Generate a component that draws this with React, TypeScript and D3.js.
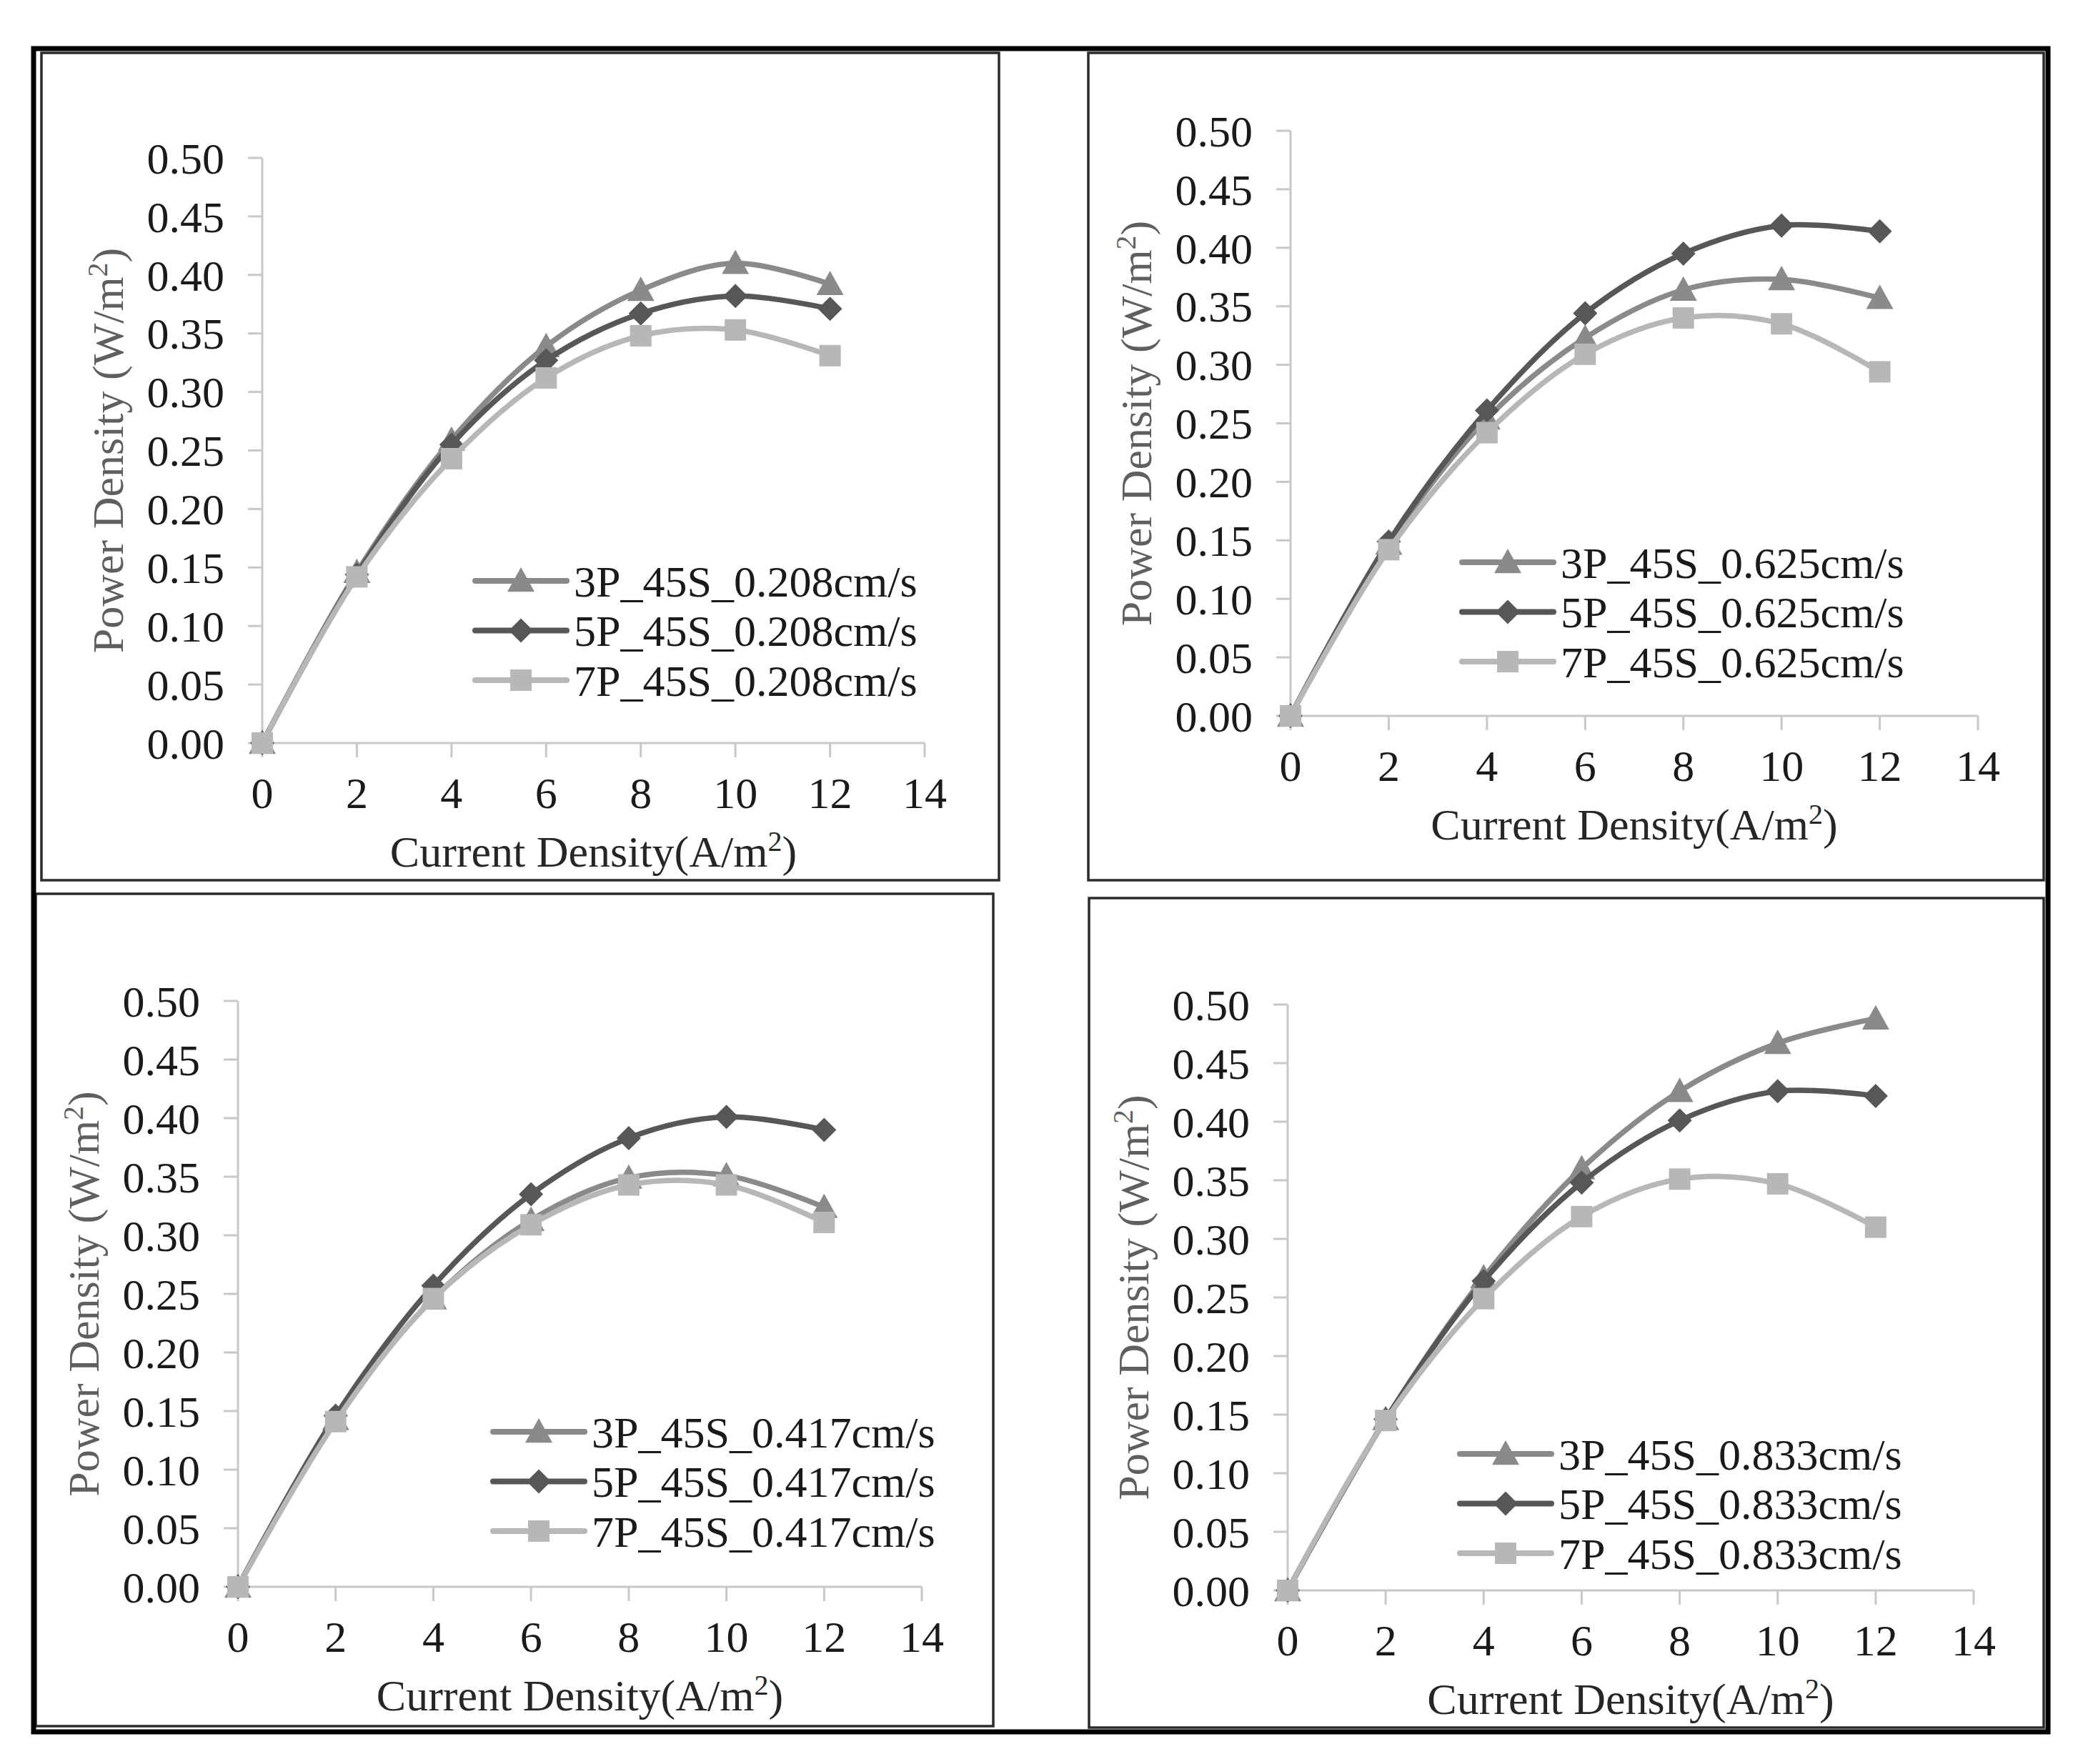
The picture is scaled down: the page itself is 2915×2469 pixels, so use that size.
import * as d3 from "d3";

const currentDensity = [0, 2, 4, 6, 8, 10, 12];
const xTicks = [0, 2, 4, 6, 8, 10, 12, 14];
const yTicks = [0, 0.05, 0.1, 0.15, 0.2, 0.25, 0.3, 0.35, 0.4, 0.45, 0.5];

const velocities = ["0.208", "0.625", "0.417", "0.833"];
const seriesPrefixes = ["3P", "5P", "7P"];

// power density, one row per series (3P, 5P, 7P)
const power0208 = [
  [0, 0.146, 0.259, 0.339, 0.387, 0.41, 0.392],
  [0, 0.144, 0.255, 0.327, 0.367, 0.382, 0.371],
  [0, 0.142, 0.243, 0.312, 0.348, 0.353, 0.331],
];
const power0625 = [
  [0, 0.147, 0.254, 0.323, 0.364, 0.373, 0.357],
  [0, 0.149, 0.261, 0.344, 0.395, 0.419, 0.414],
  [0, 0.142, 0.242, 0.309, 0.34, 0.335, 0.294],
];
const power0417 = [
  [0, 0.143, 0.246, 0.313, 0.349, 0.351, 0.324],
  [0, 0.146, 0.257, 0.335, 0.383, 0.401, 0.39],
  [0, 0.141, 0.246, 0.309, 0.343, 0.343, 0.311],
];
const power0833 = [
  [0, 0.146, 0.267, 0.36, 0.426, 0.467, 0.488],
  [0, 0.146, 0.264, 0.348, 0.401, 0.426, 0.422],
  [0, 0.145, 0.249, 0.319, 0.351, 0.347, 0.31],
];
const powerByPanel = [power0208, power0625, power0417, power0833];

// layout of the four framed panels (pixels)
const panels = [
  { box: [58, 74, 1398, 1232], plot: [367, 1294, 221, 1040], legend: [665, 813] },
  { box: [1523, 74, 2860, 1232], plot: [1806, 2768, 183, 1002], legend: [2046, 787] },
  { box: [50, 1251, 1390, 2416], plot: [333, 1290, 1401, 2221], legend: [690, 2004] },
  { box: [1524, 1257, 2860, 2418], plot: [1802, 2762, 1406, 2226], legend: [2043, 2035] },
];

const colors = ["#8a8a8a", "#575757", "#b7b7b7"];
const FONT = "'Liberation Serif', 'Times New Roman', serif";

const Marker = ({ kind, x, y, fill }: { kind: number; x: number; y: number; fill: string }) => {
  if (kind === 0) {
    const s = 19;
    return <path d={`M${x},${y - s}L${x + s},${y + s * 0.8}L${x - s},${y + s * 0.8}Z`} fill={fill} />;
  }
  if (kind === 1) {
    const s = 17;
    return <path d={`M${x},${y - s}L${x + s},${y}L${x},${y + s}L${x - s},${y}Z`} fill={fill} />;
  }
  const s = 15;
  return <rect x={x - s} y={y - s} width={2 * s} height={2 * s} fill={fill} />;
};

const Panel = ({ idx }: { idx: number }) => {
  const p = panels[idx];
  const [bx0, by0, bx1, by1] = p.box;
  const [px0, px1, py0, py1] = p.plot;
  const x = d3.scaleLinear().domain([0, 14]).range([px0, px1]);
  const y = d3.scaleLinear().domain([0, 0.5]).range([py1, py0]);
  const line = d3
    .line<number>()
    .x((_, i) => x(currentDensity[i]))
    .y((d) => y(d))
    .curve(d3.curveCatmullRom.alpha(0.5));
  const data = powerByPanel[idx];
  const axisColor = "#c8c8c8";
  const [lx, ly] = p.legend;

  return (
    <g fontFamily={FONT}>
      <rect x={bx0} y={by0} width={bx1 - bx0} height={by1 - by0} fill="none" stroke="#2b2b2b" strokeWidth={3.5} />
      {/* axes */}
      <line x1={x(0)} x2={x(0)} y1={y(0.5)} y2={y(0)} stroke={axisColor} strokeWidth={3} />
      <line x1={x(0)} x2={x(14)} y1={y(0)} y2={y(0)} stroke={axisColor} strokeWidth={3} />
      {yTicks.map((t) => (
        <g key={"y" + t}>
          <line x1={x(0) - 20} x2={x(0)} y1={y(t)} y2={y(t)} stroke={axisColor} strokeWidth={3} />
          <text x={x(0) - 53} y={y(t)} dy="0.35em" textAnchor="end" fontSize={62} fill="#1a1a1a">
            {t.toFixed(2)}
          </text>
        </g>
      ))}
      {xTicks.map((t) => (
        <g key={"x" + t}>
          <line x1={x(t)} x2={x(t)} y1={y(0)} y2={y(0) + 20} stroke={axisColor} strokeWidth={3} />
          <text x={x(t)} y={y(0) + 91} textAnchor="middle" fontSize={62} fill="#1a1a1a">
            {t}
          </text>
        </g>
      ))}
      {/* axis titles */}
      <text
        transform={`translate(${px0 - 195},${(py0 + py1) / 2}) rotate(-90)`}
        textAnchor="middle"
        fontSize={62}
        fill="#5f5f5f"
      >
        Power Density (W/m<tspan fontSize={40} dy={-22}>2</tspan>
        <tspan dy={22}>)</tspan>
      </text>
      <text x={(px0 + px1) / 2} y={py1 + 173} textAnchor="middle" fontSize={62} fill="#262626">
        Current Density(A/m<tspan fontSize={40} dy={-22}>2</tspan>
        <tspan dy={22}>)</tspan>
      </text>
      {/* series */}
      {data.map((vals, s) => (
        <g key={"s" + s}>
          <path d={line(vals) || ""} fill="none" stroke={colors[s]} strokeWidth={7.5} />
          {vals.map((v, i) => (
            <Marker key={i} kind={s} x={x(currentDensity[i])} y={y(v)} fill={colors[s]} />
          ))}
        </g>
      ))}
      {/* legend */}
      {seriesPrefixes.map((pre, s) => {
        const yy = ly + s * 69.5;
        return (
          <g key={"l" + s}>
            <line x1={lx} x2={lx + 128} y1={yy} y2={yy} stroke={colors[s]} strokeWidth={8} strokeLinecap="round" />
            <Marker kind={s} x={lx + 64} y={yy} fill={colors[s]} />
            <text x={lx + 138} y={yy} dy="0.35em" fontSize={62} fill="#1a1a1a">
              {`${pre}_45S_${velocities[idx]}cm/s`}
            </text>
          </g>
        );
      })}
    </g>
  );
};

export default function App() {
  return (
    <svg
      width={2915}
      height={2469}
      style={{ position: "absolute", left: 0, top: 0, background: "#fff" }}
    >
      <rect x={0} y={0} width={2915} height={2469} fill="#fff" />
      {panels.map((_, i) => (
        <Panel key={i} idx={i} />
      ))}
      <rect x={47} y={68} width={2819} height={2356} fill="none" stroke="#000" strokeWidth={7} />
    </svg>
  );
}
